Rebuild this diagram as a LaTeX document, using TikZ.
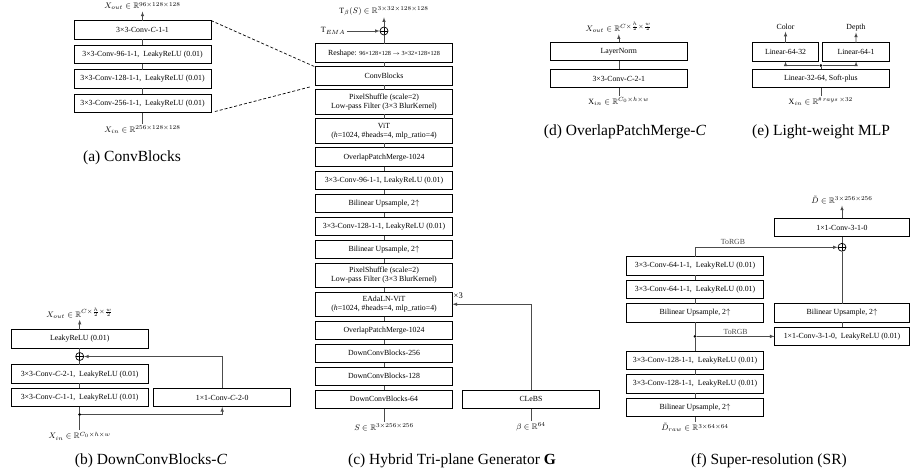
\documentclass[tikz,border=0pt]{standalone}
\usepackage{amsmath}
\usepackage{amssymb}
\usepackage{fontspec}
\setmainfont{Liberation Serif}
\usepackage{tikz}
\usetikzlibrary{positioning}
\tikzset{
  Block/.style={draw=black, line width=1pt, minimum width=137pt, minimum height=18.5pt,
    inner sep=1pt, outer sep=0pt, align=center}, % Schicht
  Block2/.style={Block, minimum height=24.5pt}, % Schicht, zweizeilig
  Linie/.style={black!70, line width=0.6pt}, % Verbindung
  Pfeil/.style={Linie, ->}, % Verbindung mit Pfeil
  Summe/.style={circle, draw=black, line width=0.7pt, minimum size=8pt, inner sep=0pt,
    path picture={\draw[line width=0.7pt] (path picture bounding box.north) -- (path picture bounding box.south)
      (path picture bounding box.west) -- (path picture bounding box.east);}}, % Addition
  Punkt/.style={circle, fill=black, minimum size=3pt, inner sep=0pt}, % Verzweigung
  Groesse/.style={inner sep=1.5pt, font=\fontsize{8}{9.5}\selectfont}, % Ein-/Ausgabe
  Titel/.style={font=\fontsize{15.5}{18}\selectfont} % Unterschrift
}

\begin{document}
\begin{tikzpicture}[x=1pt, y=-1pt,
font=\fontsize{7.8}{9.2}\selectfont,
>=latex % Pfeilspitzen
]
\useasboundingbox (0,0) rectangle (910,476);

%(a) ConvBlocks
\node[Block] (a1) at (142.5,29.8) {3×3-Conv-\textit{C}-1-1};
\node[Block, below=6pt of a1] (a2) {3×3-Conv-96-1-1,\ \ LeakyReLU (0.01)};
\node[Block, below=6pt of a2] (a3) {3×3-Conv-128-1-1,\ \ LeakyReLU (0.01)};
\node[Block, below=6pt of a3] (a4) {3×3-Conv-256-1-1,\ \ LeakyReLU (0.01)};
\node[Groesse] (aout) at (142.5,6) {$X_{out}\in\mathbb{R}^{96\times128\times128}$};
\node[Groesse] (ain) at (142.5,130) {$X_{in}\in\mathbb{R}^{256\times128\times128}$};
\node[Titel] (atitel) at (132,158) {(a) ConvBlocks};
\draw[Pfeil] (a1) -- (aout);
\draw[Linie] (a1) -- (a2) (a2) -- (a3) (a3) -- (a4) (a4) -- (ain);

%(b) DownConvBlocks
\node[Block] (b1) at (79.7,338.8) {LeakyReLU (0.01)};
\node[Summe] (bsum) at (79.7,356.5) {};
\node[Block] (b2) at (79.7,374.2) {3×3-Conv-\textit{C}-2-1,\ \ LeakyReLU (0.01)};
\node[Block, below=5pt of b2] (b3) {3×3-Conv-\textit{C}-1-1,\ \ LeakyReLU (0.01)};
\node[Block, right=5.5pt of b3] (b4) {1×1-Conv-\textit{C}-2-0};
\node[Punkt] (bdot) at (79.7,414.5) {};
\node[Groesse] (bout) at (79.7,313) {$X_{out}\in\mathbb{R}^{C\times\frac{h}{2}\times\frac{w}{2}}$};
\node[Groesse] (bin) at (79.7,436) {$X_{in}\in\mathbb{R}^{C_0\times h\times w}$};
\node[Titel] (btitel) at (151,461) {(b) DownConvBlocks-\textit{C}};
\draw[Pfeil] (b1) -- (bout);
\draw[Linie] (bsum) -- (b1) (b2) -- (bsum) (b3) -- (b2) (bdot) -- (b3) (bin) -- (bdot);
\draw[Pfeil] (bdot) -| (b4);
\draw[Pfeil] (b4) |- (bsum);

%(c) Generator
\node[Block] (c1) at (384,53.25) {Reshape: {\fontsize{6.2}{7}\selectfont 96×128×128 $\rightarrow$ 3×32×128×128}};
\node[Block, below=4.5pt of c1] (c2) {ConvBlocks};
\node[Block2, below=4.5pt of c2] (c3) {PixelShuffle (scale=2)\\Low-pass Filter (3×3 BlurKernel)};
\node[Block2, below=4.5pt of c3] (c4) {ViT\\(\textit{h}=1024, \#heads=4, mlp\_ratio=4)};
\node[Block, below=4.5pt of c4] (c5) {OverlapPatchMerge-1024};
\node[Block, below=4.5pt of c5] (c6) {3×3-Conv-96-1-1, LeakyReLU (0.01)};
\node[Block, below=4.5pt of c6] (c7) {Bilinear Upsample, 2$\uparrow$};
\node[Block, below=4.5pt of c7] (c8) {3×3-Conv-128-1-1, LeakyReLU (0.01)};
\node[Block, below=4.5pt of c8] (c9) {Bilinear Upsample, 2$\uparrow$};
\node[Block2, below=4.5pt of c9] (c10) {PixelShuffle (scale=2)\\Low-pass Filter (3×3 BlurKernel)};
\node[Block2, below=4.5pt of c10] (c11) {EAdaLN-ViT\\(\textit{h}=1024, \#heads=4, mlp\_ratio=4)};
\node[Block, below=4.5pt of c11] (c12) {OverlapPatchMerge-1024};
\node[Block, below=4.5pt of c12] (c13) {DownConvBlocks-256};
\node[Block, below=4.5pt of c13] (c14) {DownConvBlocks-128};
\node[Block, below=4.5pt of c14] (c15) {DownConvBlocks-64};
\node[Block, right=10pt of c15] (clebs) {CLeBS};
\node[Summe] (csum) at (384,31) {};
\node[Groesse] (tema) at (333,31) {$\mathrm{T}_{EMA}$};
\node[Groesse] (cout) at (384,11) {$\mathrm{T}_{\beta}(S)\in\mathbb{R}^{3\times32\times128\times128}$};
\node[Groesse] (cin) at (384,427) {$S\in\mathbb{R}^{3\times256\times256}$};
\node[Groesse] (beta) at (531,427) {$\beta\in\mathbb{R}^{64}$};
\node[anchor=north west, inner sep=1pt, font=\fontsize{8.5}{10}\selectfont] (mal) at (c11.north east) {×3};
\node[Titel] (ctitel) at (452,461) {(c) Hybrid Tri-plane Generator \textbf{G}};
\foreach \k [count=\n from 2] in {1,...,14}
  \draw[Linie] (c\k) -- (c\n);
\draw[Linie] (c1) -- (csum) (c15) -- (cin) (clebs) -- (beta);
\draw[Pfeil] (tema) -- (csum);
\draw[Pfeil] (csum) -- (cout);
\draw[Pfeil] (clebs) |- (c11);
\draw[line width=0.7pt, dash pattern=on 3pt off 2pt, shorten <=4pt, shorten >=4pt]
  (a1.north east) -- (c2.north west) (a4.south east) -- (c2.south west);

%(d) OverlapPatchMerge
\node[Block] (d1) at (618.8,51.5) {LayerNorm};
\node[Block, below=8.5pt of d1] (d2) {3×3-Conv-\textit{C}-2-1};
\node[Groesse] (dout) at (618.8,27.5) {$X_{out}\in\mathbb{R}^{C\times\frac{h}{2}\times\frac{w}{2}}$};
\node[Groesse] (din) at (618.8,101.7) {$\mathrm{X}_{in}\in\mathbb{R}^{C_0\times h\times w}$};
\node[Titel] (dtitel) at (625,131.7) {(d) OverlapPatchMerge-\textit{C}};
\draw[Pfeil] (d1) -- (dout);
\draw[Linie] (d2) -- (d1) (din) -- (d2);

%(e) MLP
\node[Block] (e3) at (820.8,78.7) {Linear-32-64, Soft-plus};
\node[Block, minimum width=66.5pt, above right=8pt and 0pt of e3.north west] (e1) {Linear-64-32};
\node[Block, minimum width=66.5pt, above left=8pt and 0pt of e3.north east] (e2) {Linear-64-1};
\path (e3.north) -- (e3.north |- e1.south) node[Punkt, midway] (edot) {};
\node[Groesse, font=\fontsize{7.8}{9}\selectfont] (farbe) at (785.5,27.3) {Color};
\node[Groesse, font=\fontsize{7.8}{9}\selectfont] (tiefe) at (856,27.3) {Depth};
\node[Groesse] (ein) at (820.8,101.7) {$\mathrm{X}_{in}\in\mathbb{R}^{\#\,rays\,\times32}$};
\node[Titel] (etitel) at (821,131.7) {(e) Light-weight MLP};
\draw[Linie] (e3) -- (edot) (ein) -- (e3);
\draw[Pfeil] (edot) -| (e1);
\draw[Pfeil] (edot) -| (e2);
\draw[Pfeil] (e1) -- (farbe);
\draw[Pfeil] (e2) -- (tiefe);

%(f) Super-resolution
\node[Block] (f1) at (695,265.9) {3×3-Conv-64-1-1,\ \ LeakyReLU (0.01)};
\node[Block, below=5pt of f1] (f2) {3×3-Conv-64-1-1,\ \ LeakyReLU (0.01)};
\node[Block, below=5pt of f2] (f3) {Bilinear Upsample, 2$\uparrow$};
\node[Block, below=29pt of f3] (f4) {3×3-Conv-128-1-1,\ \ LeakyReLU (0.01)};
\node[Block, below=5pt of f4] (f5) {3×3-Conv-128-1-1,\ \ LeakyReLU (0.01)};
\node[Block, below=5pt of f5] (f6) {Bilinear Upsample, 2$\uparrow$};
\node[Block, minimum width=135pt, right=11pt of f3] (r2) {Bilinear Upsample, 2$\uparrow$};
\node[Block, minimum width=135pt, below=5pt of r2] (r3) {1×1-Conv-3-1-0,\ \ LeakyReLU (0.01)};
\node[Block, minimum width=135pt] (r1) at (842,227.5) {1×1-Conv-3-1-0};
\node[Summe] (fsum) at (842,247.3) {};
\node[Punkt] (fdot) at (f3 |- r3) {};
\node[Groesse] (fout) at (842,200) {$\tilde{D}\in\mathbb{R}^{3\times256\times256}$};
\node[Groesse] (fin) at (695,427.7) {$\tilde{D}_{raw}\in\mathbb{R}^{3\times64\times64}$};
\node[Titel] (ftitel) at (769,461) {(f) Super-resolution (SR)};
\draw[Linie] (f1) -- (f2) (f2) -- (f3) (f3) -- (fdot) (fdot) -- (f4) (f4) -- (f5) (f5) -- (f6) (f6) -- (fin);
\draw[Linie] (r3) -- (r2) (r2) -- (fsum) (fsum) -- (r1);
\draw[Pfeil] (fdot) -- (r3) node[midway, above, inner sep=1.5pt] {ToRGB};
\draw[Pfeil] (f1) |- (fsum) node[pos=0.633, above, inner sep=2.5pt] {ToRGB};
\draw[Pfeil] (r1) -- (fout);

\end{tikzpicture}
\end{document}
